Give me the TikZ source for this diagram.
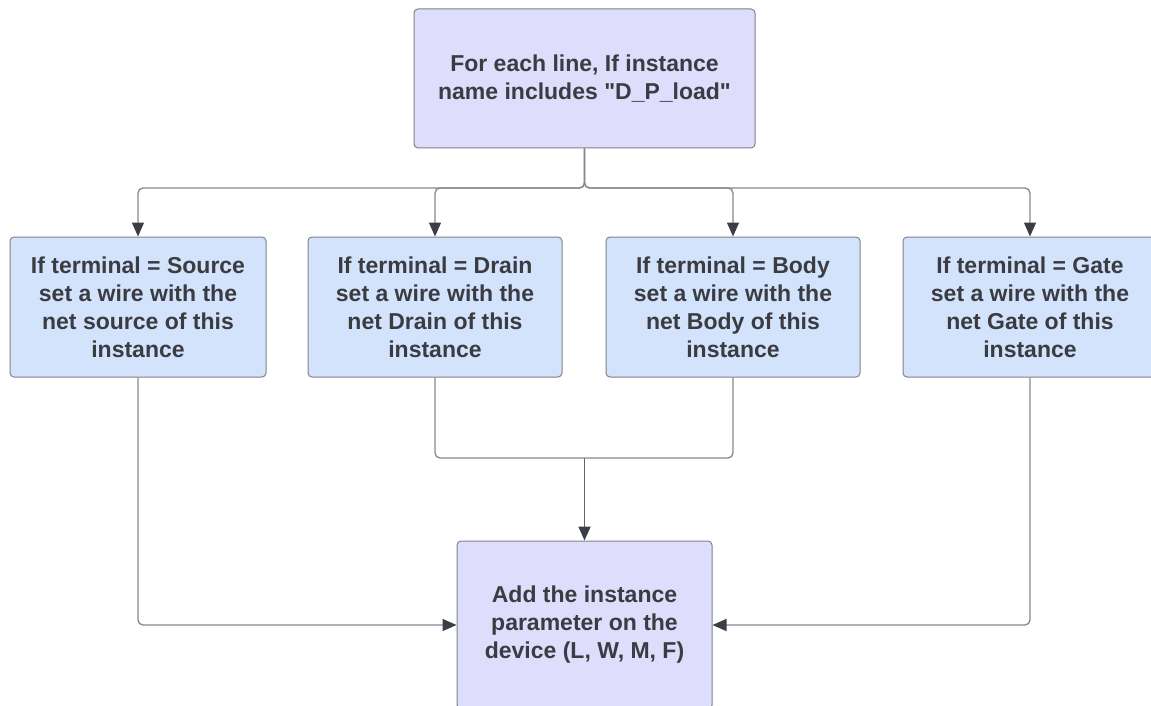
\documentclass[tikz,border=0pt]{standalone}
\usepackage{fontspec}
\setmainfont{Liberation Sans}[Ligatures=TeXOff]
\usetikzlibrary{arrows.meta,calc}
\definecolor{topfill}{RGB}{222,221,251}
\definecolor{midfill}{RGB}{212,227,252}
\definecolor{boxline}{RGB}{128,130,138}
\definecolor{txt}{RGB}{58,60,66}
\definecolor{wire}{RGB}{135,137,142}
\definecolor{tipc}{RGB}{58,62,70}
\tikzset{
  box/.style={draw=boxline, line width=1pt, rounded corners=4pt, align=center,
    font=\bfseries\fontsize{23}{28}\selectfont, text=txt, inner sep=0pt},
  topbox/.style={box, fill=topfill},
  midbox/.style={box, fill=midfill},
  conn/.style={draw=wire, line width=1.3pt, rounded corners=5pt},
  arr/.style={conn, -{Triangle[length=14pt,width=12pt,color=tipc]}},
}
\begin{document}
\begin{tikzpicture}[x=1pt,y=-1pt]
\useasboundingbox (0,0) rectangle (1151,706);
\node[topbox, minimum width=341pt, minimum height=139pt] (top) at (584.5,78.5)
  {For each line, If instance\\name includes "D\_P\_load"};
\node[midbox, minimum width=256pt, minimum height=140pt] (b1) at (138,307)
  {If terminal = Source\\set a wire with the\\net source of this\\instance};
\node[midbox, minimum width=254pt, minimum height=140pt] (b2) at (435,307)
  {If terminal = Drain\\set a wire with the\\net Drain of this\\instance};
\node[midbox, minimum width=254pt, minimum height=140pt] (b3) at (733,307)
  {If terminal = Body\\set a wire with the\\net Body of this\\instance};
\node[midbox, minimum width=254pt, minimum height=140pt] (b4) at (1030,307)
  {If terminal = Gate\\set a wire with the\\net Gate of this\\instance};
\node[topbox, minimum width=255pt, minimum height=168pt] (bot) at (584.5,625)
  {Add the instance\\parameter on the\\device (L, W, M, F)};
\coordinate (split) at (584.5,188);
\coordinate (merge) at (584.5,458);
\draw[arr] (top.south) -- (split) -| (b1.north);
\draw[arr] (top.south) -- (split) -| (b2.north);
\draw[arr] (top.south) -- (split) -| (b3.north);
\draw[arr] (top.south) -- (split) -| (b4.north);
\draw[conn] (b2.south) |- (merge);
\draw[conn] (b3.south) |- (merge);
\draw[arr, draw=tipc!80, line width=1.8pt] (merge) -- (bot.north);
\draw[arr] (b1.south) |- (bot.west);
\draw[arr] (b4.south) |- (bot.east);
\end{tikzpicture}
\end{document}
